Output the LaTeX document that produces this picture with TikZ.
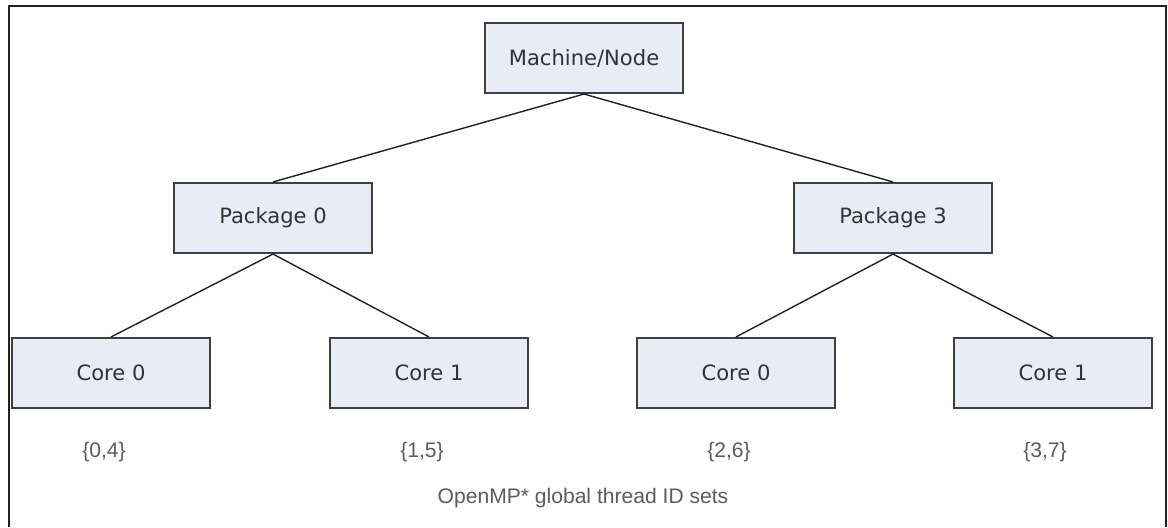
\documentclass[tikz,border=0pt]{standalone}
\usepackage{fontspec}
\setmainfont{DejaVu Sans}
\newfontfamily\arialfont{Liberation Sans}
\usepackage{tikz}
\definecolor{kasten}{HTML}{E7ECF6}
\definecolor{rand}{HTML}{404040}
\definecolor{schrift}{HTML}{333333}
\definecolor{linie}{HTML}{222222}

\begin{document}
\begin{tikzpicture}[x=0.02cm,y=-0.02cm,
  box/.style={draw=rand,fill=kasten,line width=1.2pt,minimum width=3.96cm,minimum height=1.4cm,
    inner sep=0pt,text=schrift,font=\fontsize{12}{14}\selectfont},
  verb/.style={linie,line width=0.8pt},
  idset/.style={text=schrift!80!white,font=\arialfont\fontsize{12}{14}\selectfont,inner sep=1pt}]
  \useasboundingbox (0,0) rectangle (1168,527);
  \draw[linie,line width=0.9pt] (9,527)--(9,6)--(1166,6)--(1166,527);
  \node[box] (machine) at (584,58) {Machine/Node};
  \node[box] (pkg0) at (273,218) {Package 0};
  \node[box] (pkg3) at (893,218) {Package 3};
  \node[box] (core00) at (111,373) {Core 0};
  \node[box] (core01) at (429,373) {Core 1};
  \node[box] (core30) at (736,373) {Core 0};
  \node[box] (core31) at (1053,373) {Core 1};
  \draw[verb] (machine.south)--(pkg0.north); \draw[verb] (machine.south)--(pkg3.north);
  \draw[verb] (pkg0.south)--(core00.north); \draw[verb] (pkg0.south)--(core01.north);
  \draw[verb] (pkg3.south)--(core30.north); \draw[verb] (pkg3.south)--(core31.north);
  \node[idset] (ids00) at (104,452) {\{0,4\}};
  \node[idset] (ids01) at (422,452) {\{1,5\}};
  \node[idset] (ids30) at (729,452) {\{2,6\}};
  \node[idset] (ids31) at (1045,452) {\{3,7\}};
  \node[idset] (caption) at (583,498) {OpenMP* global thread ID sets};
\end{tikzpicture}
\end{document}
